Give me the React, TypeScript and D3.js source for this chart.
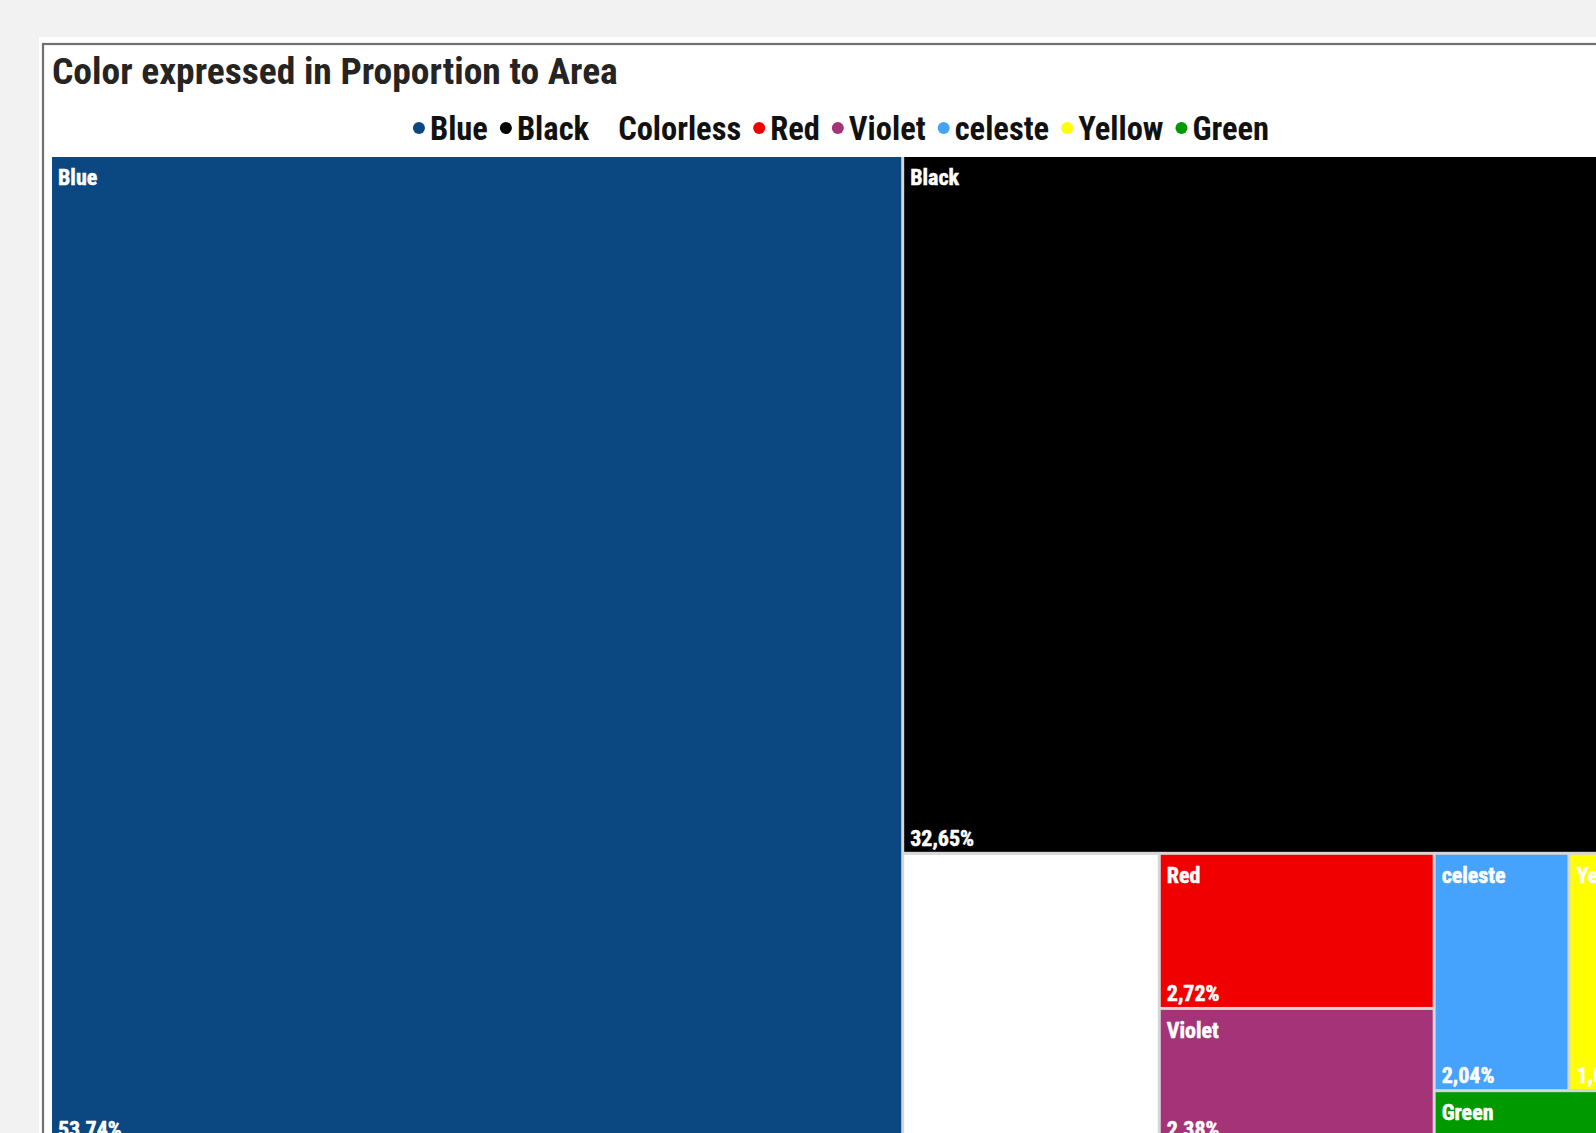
import React, { useMemo } from "react";
import * as d3 from "d3";

// ---- data ----
const categories = ["Blue", "Black", "Colorless", "Red", "Violet", "celeste", "Yellow", "Green"];
const shares = [53.74, 32.65, 4.76, 2.72, 2.38, 2.04, 1.02, 0.69];
const palette = ["#0B4780", "#000000", "#FFFFFF", "#F00000", "#A53378", "#45A3FD", "#FFFF00", "#009900"];
const titleText = "Color expressed in Proportion to Area";

const W = 1596;
const H = 1133;
const FONT = "'Liberation Sans Narrow','Arial Narrow','Roboto Condensed','Liberation Sans',sans-serif";

const locale = d3.formatLocale({ decimal: ",", thousands: ".", grouping: [3], currency: ["", "€"] });
const pct = (v: number) => locale.format(".2f")(v) + "%";

function measure(text: string, size: number): number {
  const ctx = document.createElement("canvas").getContext("2d")!;
  ctx.font = `bold ${size}px ${FONT}`;
  return ctx.measureText(text).width;
}

type Leaf = { name: string; value: number; color: string };

export default function App() {
  const TM = { x: 52, y: 157, w: 1582.8, h: 985.7 };

  const leaves = useMemo(() => {
    const data = { children: categories.map((c, i) => ({ name: c, value: shares[i], color: palette[i] })) };
    const root = d3
      .hierarchy<any>(data)
      .sum((d: any) => d.value ?? 0)
      .sort((a, b) => (b.value ?? 0) - (a.value ?? 0));
    d3.treemap<any>()
      .tile(d3.treemapSquarify.ratio(1.72))
      .size([TM.w, TM.h])
      .paddingInner(3)(root);
    return root.leaves() as d3.HierarchyRectangularNode<Leaf>[];
  }, []);

  const legendSize = 32.5;
  const legendItems = useMemo(() => {
    const r = 6;
    const dotGap = 5;
    const itemGap = 12;
    const items = categories.map((c, i) => ({ name: c, color: palette[i], tw: measure(c, legendSize) }));
    const total = items.reduce((s, it) => s + r * 2 + dotGap + it.tw, 0) + itemGap * (items.length - 1);
    let x = 841 - total / 2;
    return items.map((it) => {
      const o = { ...it, cx: x + r, tx: x + 2 * r + dotGap, r };
      x += 2 * r + dotGap + it.tw + itemGap;
      return o;
    });
  }, []);

  const labelSize = 22;

  return (
    <div
      style={{
        position: "fixed",
        left: 0,
        top: 0,
        width: W,
        height: H,
        overflow: "hidden",
        background: "#f2f2f2",
      }}
    >
      <svg width={W} height={H} style={{ display: "block" }}>
        <defs>
          {leaves.map((l, i) => (
            <clipPath id={`clip-${i}`} key={i}>
              <rect x={l.x0} y={l.y0} width={l.x1 - l.x0} height={l.y1 - l.y0} />
            </clipPath>
          ))}
        </defs>
        {/* visual container */}
        <rect x={39} y={37} width={1700} height={1300} fill="#ffffff" />
        <rect x={43} y={44} width={1700} height={1300} fill="none" stroke="#707070" strokeWidth={2.2} />

        {/* title */}
        <text x={52} y={84} fontFamily={FONT} fontWeight="bold" fontSize={37.5} fill="#252423">
          {titleText}
        </text>

        {/* legend */}
        <g>
          {legendItems.map((it) => (
            <g key={it.name}>
              <circle cx={it.cx} cy={128} r={it.r} fill={it.color} />
              <text x={it.tx} y={139.5} fontFamily={FONT} fontWeight="bold" fontSize={legendSize} fill="#111111">
                {it.name}
              </text>
            </g>
          ))}
        </g>

        {/* treemap */}
        <g transform={`translate(${TM.x},${TM.y})`}>
          <rect x={0} y={0} width={TM.w} height={TM.h} fill="#d6d6d6" />
          {leaves.map((l, i) => {
            const w = l.x1 - l.x0;
            const h = l.y1 - l.y0;
            const d = l.data;
            return (
              <g key={d.name}>
                <rect x={l.x0} y={l.y0} width={w} height={h} fill={d.color} />
                <g clipPath={`url(#clip-${i})`}>
                  <text
                    x={l.x0 + 6}
                    y={l.y0 + 28}
                    fontFamily={FONT}
                    fontWeight="bold"
                    fontSize={labelSize}
                    fill="#ffffff"
                    stroke="#ffffff"
                    strokeWidth={0.5}
                  >
                    {d.name}
                  </text>
                  {h > 70 && (
                    <text
                      x={l.x0 + 6}
                      y={l.y1 - 6}
                      fontFamily={FONT}
                      fontWeight="bold"
                      fontSize={labelSize}
                      fill="#ffffff"
                      stroke="#ffffff"
                      strokeWidth={0.5}
                    >
                      {pct(d.value)}
                    </text>
                  )}
                </g>
              </g>
            );
          })}
        </g>
      </svg>
    </div>
  );
}
